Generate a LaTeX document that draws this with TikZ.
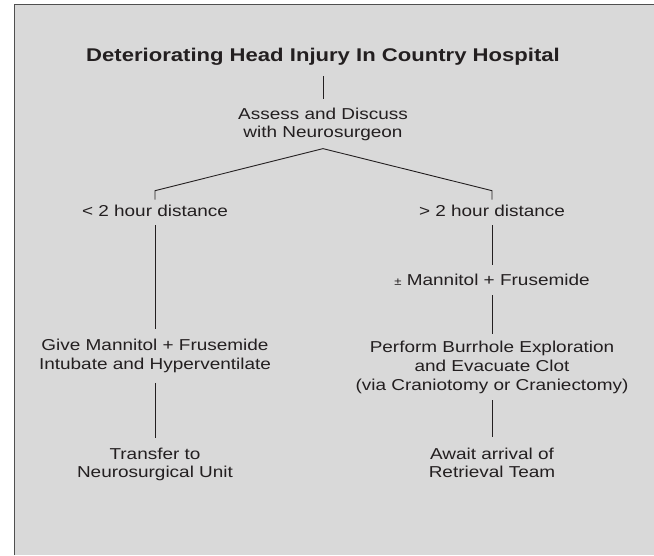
\documentclass[tikz,border=0pt]{standalone}
\usepackage{fontspec}
\setmainfont{Liberation Sans}[FakeStretch=1.2]
\usepackage{tikz}
\usetikzlibrary{calc}
\definecolor{ink}{HTML}{231F20}
\definecolor{panel}{HTML}{D9D9D9}
\definecolor{rim}{HTML}{505050}
\tikzset{
  txt/.style={align=center, inner sep=0pt, text=ink,
    font=\fontsize{15.8}{18.75}\selectfont,
    execute at begin node=\strut, execute at end node=\strut},
  head/.style={txt, font=\fontsize{18.4}{22}\selectfont\bfseries},
  link/.style={draw=ink, line width=0.9pt},
}
\begin{document}
\begin{tikzpicture}[x=1pt,y=-1pt]
\useasboundingbox (0,0) rectangle (654,555);
\fill[panel] (14.5,4.7) rectangle (654,555);
\draw[rim, line width=1.5pt] (14.5,555) -- (14.5,4.7) -- (654,4.7);

\node[head] (title) at (323,56.6) {Deteriorating Head Injury In Country Hospital};
\node[txt] (assess) at (323,125.5) {Assess and Discuss\\with Neurosurgeon};
      \node[txt] (near) at (155,212.25) {< 2 hour distance};
                                  \node[txt] (far) at (492,212.25) {> 2 hour distance};
                                  \node[txt] (mann) at (492,281.25) {{\fontsize{11}{13}\selectfont ±} Mannitol + Frusemide};
      \node[txt] (give) at (155,356.75) {Give Mannitol + Frusemide\\Intubate and Hyperventilate};
                                  \node[txt] (burr) at (492,368.5) {Perform Burrhole Exploration\\and Evacuate Clot\\(via Craniotomy or Craniectomy)};
      \node[txt] (transfer) at (155,465.6) {Transfer to\\Neurosurgical Unit};
                                  \node[txt] (await) at (492,465.6) {Await arrival of\\Retrieval Team};
\coordinate (split) at ([yshift=-5pt]assess.south);
\draw[link, shorten <=8.4pt, shorten >=7.9pt] (title.south) -- (assess.north);
\draw[link] ([yshift=3pt]near.north) -- ++(0,-9) -- (split) -- ([yshift=12pt]far.north) -- ([yshift=3pt]far.north);
\draw[link, shorten <=3.4pt, shorten >=9.6pt] (near.south) -- (give.north);
\draw[link, shorten <=8pt, shorten >=10pt] (give.south) -- (transfer.north);
\draw[link, shorten <=3.4pt, shorten >=6.9pt] (far.south) -- (mann.north);
\draw[link, shorten <=4.4pt, shorten >=7.2pt] (mann.south) -- (burr.north);
\draw[link, shorten <=4.4pt, shorten >=10pt] (burr.south) -- (await.north);
\end{tikzpicture}
\end{document}
